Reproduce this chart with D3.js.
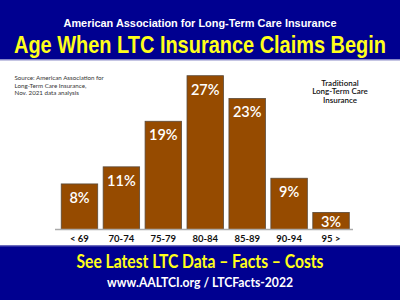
<!DOCTYPE html>
<html>
<head>
<meta charset="utf-8">
<script src="https://cdn.jsdelivr.net/npm/d3@7"></script>
<style>
  body { margin: 0; background: #fff; }
  svg { display: block; }
</style>
</head>
<body>
<svg id="chart"></svg>
<script>
// chart data
const ageGroups = ["< 69", "70-74", "75-79", "80-84", "85-89", "90-94", "95 >"];
const claimShare = [8, 11, 19, 27, 23, 9, 3];
const sourceLines = ["Source: American Association for", "Long-Term Care Insurance,", "Nov. 2021 data analysis"];
const noteLines = ["Traditional", "Long-Term Care", "Insurance"];

const W = 400;
const H = 300;
const navy = "#000090";
const yellow = "#ffff1a";
const brown = "#964b00";
const humanist = "Lato, 'Open Sans', sans-serif";

const svg = d3.select("#chart").attr("width", W).attr("height", H);

svg.append("rect").attr("width", W).attr("height", H).attr("fill", "#fff");

// top banner
svg.append("rect").attr("x", 0).attr("y", 0).attr("width", W).attr("height", 59.5).attr("fill", navy);
svg.append("rect").attr("x", 0).attr("y", 59.5).attr("width", W).attr("height", 1).attr("fill", "#8c8cc8");
svg.append("text")
  .attr("x", W / 2).attr("y", 26.5)
  .attr("text-anchor", "middle")
  .attr("font-family", "'Liberation Sans', Arial, sans-serif")
  .attr("font-weight", "bold")
  .attr("font-size", 11.5)
  .attr("fill", "#fff")
  .attr("textLength", 273).attr("lengthAdjust", "spacingAndGlyphs")
  .text("American Association for Long-Term Care Insurance");
svg.append("text")
  .attr("x", W / 2).attr("y", 53.3)
  .attr("text-anchor", "middle")
  .attr("font-family", "'Liberation Sans', Arial, sans-serif")
  .attr("font-weight", "bold")
  .attr("font-size", 24)
  .attr("fill", yellow)
  .attr("textLength", 372).attr("lengthAdjust", "spacingAndGlyphs")
  .text("Age When LTC Insurance Claims Begin");

// bottom banner
svg.append("rect").attr("x", 0).attr("y", 245.5).attr("width", W).attr("height", H - 245.5).attr("fill", navy);
svg.append("rect").attr("x", 0).attr("y", 245.5).attr("width", W).attr("height", 1).attr("fill", "#5a5ab4");
svg.append("text")
  .attr("x", W / 2).attr("y", 268.3)
  .attr("text-anchor", "middle")
  .attr("font-family", humanist)
  .attr("font-weight", "bold")
  .attr("font-size", 18.5)
  .attr("fill", yellow)
  .attr("textLength", 247).attr("lengthAdjust", "spacingAndGlyphs")
  .text("See Latest LTC Data \u2013 Facts \u2013 Costs");
svg.append("text")
  .attr("x", W / 2).attr("y", 286.7)
  .attr("text-anchor", "middle")
  .attr("font-family", humanist)
  .attr("font-weight", "bold")
  .attr("font-size", 14)
  .attr("fill", "#fff")
  .attr("textLength", 186).attr("lengthAdjust", "spacingAndGlyphs")
  .text("www.AALTCI.org / LTCFacts-2022");

// source + note
svg.append("g").selectAll("text")
  .data(sourceLines)
  .join("text")
  .attr("x", 14.5)
  .attr("y", (d, i) => 80 + i * 7.6)
  .attr("font-family", humanist)
  .attr("font-size", 6.2)
  .attr("fill", "#333")
  .text((d) => d);

svg.append("g").selectAll("text")
  .data(noteLines)
  .join("text")
  .attr("x", 340)
  .attr("y", (d, i) => 85.5 + i * 8.6)
  .attr("text-anchor", "middle")
  .attr("font-family", humanist)
  .attr("font-weight", 600)
  .attr("font-size", 8)
  .attr("fill", "#111")
  .text((d) => d);

// bars
const baseY = 229.5;
const x = d3.scaleBand().domain(ageGroups).range([58.5, 352]).paddingInner(0.13).paddingOuter(0.065);
const y = d3.scaleLinear().domain([0, 27]).range([baseY, 75.7]);

const data = ageGroups.map((g, i) => ({ group: g, value: claimShare[i] }));

svg.append("g").selectAll("rect")
  .data(data)
  .join("rect")
  .attr("x", (d) => x(d.group))
  .attr("y", (d) => y(d.value))
  .attr("width", x.bandwidth())
  .attr("height", (d) => baseY - y(d.value))
  .attr("fill", brown)
  .attr("stroke", "#5a4a3a")
  .attr("stroke-width", 0.8);

svg.append("g").selectAll("text")
  .data(data)
  .join("text")
  .attr("x", (d) => x(d.group) + x.bandwidth() / 2)
  .attr("y", (d) => Math.min(y(d.value) + 19, baseY - 2.5))
  .attr("text-anchor", "middle")
  .attr("font-family", humanist)
  .attr("font-weight", 600)
  .attr("font-size", 14.5)
  .attr("fill", "#fff")
  .text((d) => d.value + "%");

// baseline axis
const axis = svg.append("g")
  .attr("transform", `translate(0,${baseY})`)
  .call(d3.axisBottom(x).tickSize(0).tickPadding(6));
axis.select(".domain").attr("stroke", "#aaa").attr("stroke-width", 1.5).attr("d", "M55,0H353");
axis.selectAll("text")
  .attr("font-family", humanist)
  .attr("font-weight", "bold")
  .attr("font-size", 9.5)
  .attr("fill", "#111");
</script>
</body>
</html>
